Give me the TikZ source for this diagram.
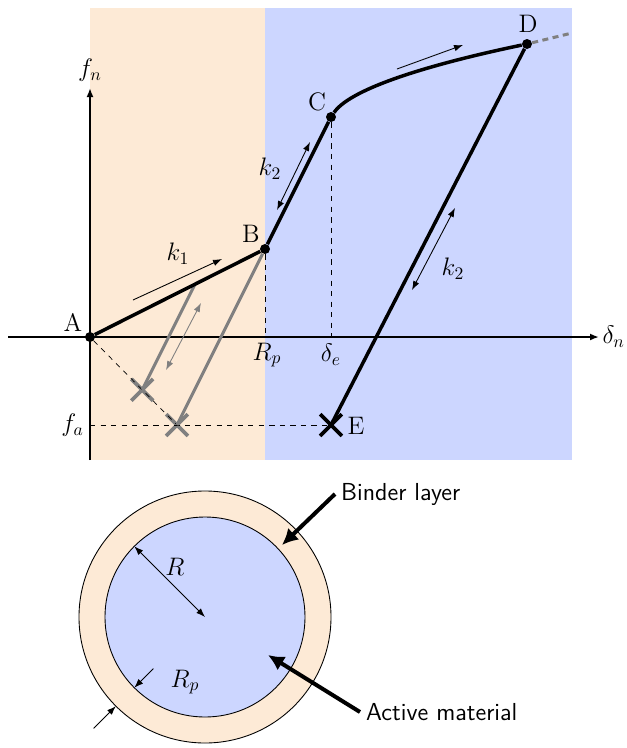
\documentclass[tikz,border=0pt]{standalone}
\usepackage{amsmath,amssymb}
\usetikzlibrary{arrows.meta,calc,shapes.misc}

\definecolor{binder}{RGB}{253,234,214}
\definecolor{active}{RGB}{204,214,255}

\tikzset{
  pt/.style={circle,fill,inner sep=0pt,minimum size=2mm},
  xmark/.style={cross out,draw,line width=0.75mm,minimum size=3.6mm,inner sep=0pt},
  curve/.style={line width=0.7mm},
  unload/.style={gray,line width=0.6mm},
  axis/.style={line width=0.35mm,-{Latex[length=1.8mm,width=1.4mm]}},
  dim/.style={line width=0.5pt,-{Latex[length=1.8mm,width=1.3mm]}},
  dimboth/.style={line width=0.5pt,{Latex[length=1.8mm,width=1.3mm]}-{Latex[length=1.8mm,width=1.3mm]}},
  pointer/.style={line width=0.8mm,-{Latex[length=3.2mm,width=3.2mm]}}
}

\begin{document}
\begin{tikzpicture}[x=0.2mm,y=-0.2mm,font=\Large]
\useasboundingbox (0,0) rectangle (627,748);
% binder and active zones
\fill[binder] (90,8) rectangle (265,460);
\fill[active] (265,8) rectangle (572,460);

% points of the law
\node[pt] (A) at (90,337) {};
\node[pt] (B) at (265,249) {};
\node[pt] (C) at (331,117) {};
\node[pt] (D) at (527,44) {};
\node[xmark] (E) at (331,425) {};
\node[xmark,gray] (X1) at (142.2,389.8) {};
\node[xmark,gray] (X2) at (177,425) {};
\coordinate (P) at (195,284.2);
\coordinate (fa) at (A |- E);

% axes
\draw[axis] (8,337) -- (599,337) node[right,inner sep=1.5pt] (dn) {$\delta_n$};
\draw[axis] (90,460) -- (90,88) node[above] (fn) {$f_n$};

% dashed helpers
\draw[dashed] (B) -- (B |- A);
\draw[dashed] (C) -- (C |- A);
\draw[dashed] (A) -- (X2.center);
\draw[dashed] (fa) -- (E.center);

% unloading paths
\draw[unload] (P) -- (X1.center);
\draw[unload] (B) -- (X2.center);
\draw[unload,dash pattern=on 1.2mm off 0.9mm] (D) -- (572,33);

% loading path
\draw[curve] (A) -- (B) -- (C) .. controls (352,86) and (445,61) .. (D);
\draw[curve] (D) -- (E.center);

% stiffness arrows
\draw[dim] (133,300) -- (222,259);
\draw[dim] (397,69) -- (463,45);
\draw[dimboth] (277,210) -- (310,142);
\draw[dimboth] (412,290) -- (455,208);
\draw[dimboth,gray] (166,370) -- (201,303);

% labels
\node (lA) at (73,322) {A};
\node (lB) at (251,234) {B};
\node (lC) at (317,102) {C};
\node (lD) at (528,24) {D};
\node (lE) at (356,426) {E};
\node (k1) at (178,254) {$k_1$};
\node (k2a) at (270,169) {$k_2$};
\node (k2b) at (453,269) {$k_2$};
\node (Rp) at (267,355) {$R_p$};
\node (de) at (331,355) {$\delta_e$};
\node[left] (lfa) at (fa) {$f_a$};

% particle
\coordinate (O) at (205,617);
\draw[fill=binder,line width=0.5pt] (O) circle[radius=25.2mm];
\draw[fill=active,line width=0.5pt] (O) circle[radius=20mm];
\draw[dimboth] (O) -- ($(O)+(135:20mm)$);
\draw[dim] ($(O)+(225:14.6mm)$) -- ($(O)+(225:20mm)$);
\draw[dim] ($(O)+(225:31.5mm)$) -- ($(O)+(225:25.2mm)$);
\node (R) at (175,567) {$R$};
\node (Rp2) at (185,682) {$R_p$};

\node[right,font=\fontsize{14}{17}\sffamily] (binder) at (335,494) {Binder layer};
\node[right,font=\fontsize{14}{17}\sffamily] (active) at (360,712) {Active material};
\draw[pointer] (binder.west) -- (282,545);
\draw[pointer] (active.west) -- (268,655);
\end{tikzpicture}
\end{document}
